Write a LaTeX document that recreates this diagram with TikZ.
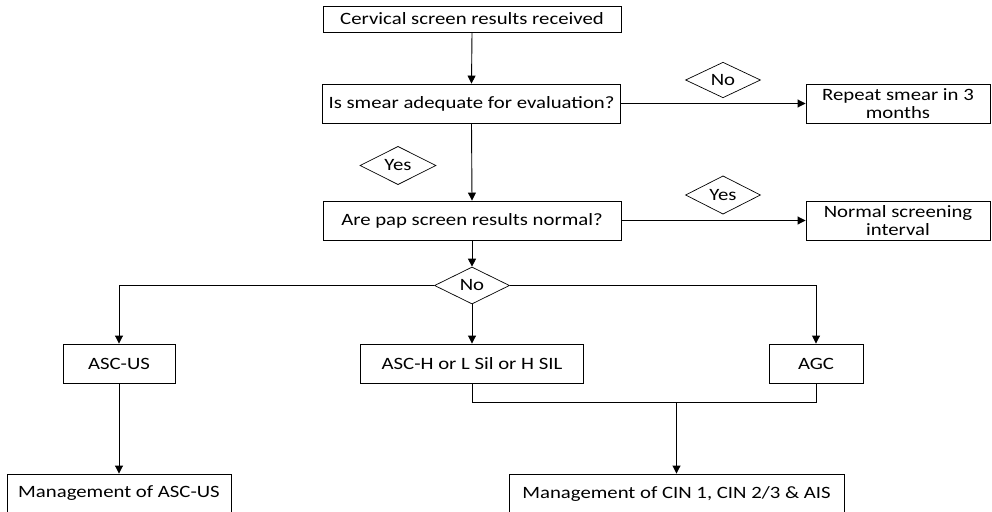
\documentclass[tikz,border=0pt]{standalone}
\usepackage{fontspec}
\setmainfont{Carlito}[FakeStretch=1.2]
\usetikzlibrary{shapes.geometric,arrows.meta}
\begin{document}
\begin{tikzpicture}[x=1pt,y=-1pt,
  box/.style={draw,line width=0.9pt,rectangle,inner sep=0pt,align=center,font=\fontsize{17.3}{18}\selectfont},
  dia/.style={draw,line width=0.7pt,diamond,inner sep=0pt,font=\fontsize{17.3}{18}\selectfont},
  link/.style={line width=0.9pt},
  arr/.style={link,-{Triangle[width=8pt,length=8pt]}}]
\useasboundingbox (0,0) rectangle (992,511);
\node[box,minimum width=298pt,minimum height=26pt] (top) at (472,19) {Cervical screen results received};
\node[box,minimum width=298pt,minimum height=39pt] (adeq) at (471.5,103.5) {Is smear adequate for evaluation?};
\node[box,minimum width=184pt,minimum height=39pt] (repeat) at (898,103.5) {Repeat smear in 3\\months};
\node[box,minimum width=298pt,minimum height=39pt] (normal) at (472,220.5) {Are pap screen results normal?};
\node[box,minimum width=184pt,minimum height=39pt] (interval) at (898,220.5) {Normal screening\\interval};
\node[dia,minimum width=75pt,minimum height=34pt] (no1) at (723,80) {No};
\node[dia,minimum width=76pt,minimum height=33pt] (yes1) at (398,165.5) {Yes};
\node[dia,minimum width=75pt,minimum height=38pt] (yes2) at (723,195) {Yes};
\node[dia,minimum width=75pt,minimum height=37pt] (no2) at (472,285.5) {No};
\node[box,minimum width=112pt,minimum height=39pt] (ascus) at (119,363.5) {ASC-US};
\node[box,minimum width=223pt,minimum height=39pt] (asch) at (472,363.5) {ASC-H or L Sil or H SIL};
\node[box,minimum width=94pt,minimum height=39pt] (agc) at (816,363.5) {AGC};
\node[box,minimum width=224pt,minimum height=39pt] (mg1) at (119,493.5) {Management of ASC-US};
\node[box,minimum width=335pt,minimum height=39pt] (mg2) at (676.5,493.5) {Management of CIN 1, CIN 2/3 \& AIS};
\coordinate (join) at (676.5,402.5);
\draw[arr] (top.south) -- (adeq.north);
\draw[arr] (adeq.east) -- (repeat.west);
\draw[arr] (adeq.south) -- (normal.north);
\draw[arr] (normal.east) -- (interval.west);
\draw[arr] (normal.south) -- (no2.north);
\draw[arr] (no2.west) -| (ascus.north);
\draw[arr] (no2.east) -| (agc.north);
\draw[arr] (no2.south) -- (asch.north);
\draw[link] (asch.south) |- (join) -| (agc.south);
\draw[arr] (join) -- (mg2.north);
\draw[arr] (ascus.south) -- (mg1.north);
\end{tikzpicture}
\end{document}
